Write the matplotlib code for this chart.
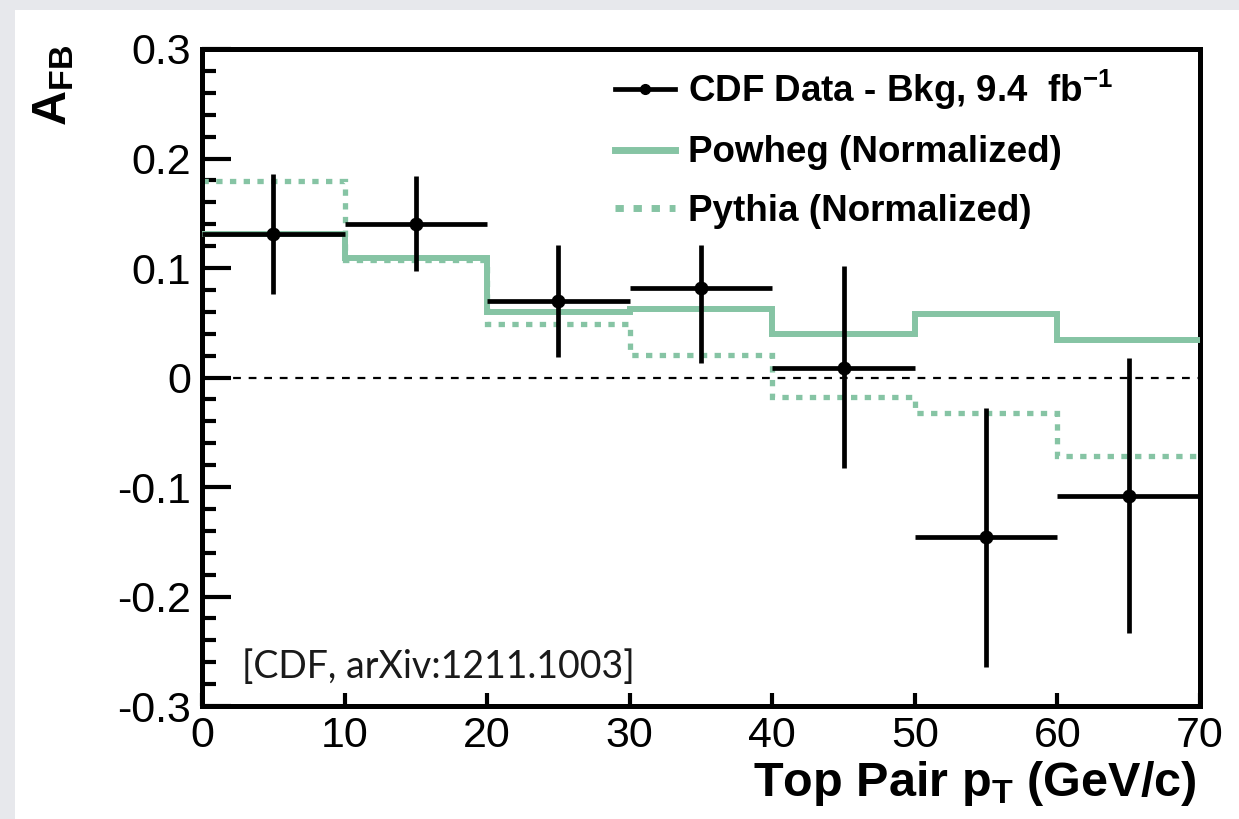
import numpy as np
import matplotlib
matplotlib.use('Agg')
import matplotlib.pyplot as plt
from matplotlib.lines import Line2D
from matplotlib.patches import Rectangle
from matplotlib.ticker import MultipleLocator

plt.rcParams['font.family'] = ['Liberation Sans', 'DejaVu Sans']
plt.rcParams['mathtext.fontset'] = 'custom'
plt.rcParams['mathtext.rm'] = 'Liberation Sans'
plt.rcParams['mathtext.bf'] = 'Liberation Sans:bold'
plt.rcParams['mathtext.it'] = 'Liberation Sans:italic'

# top pair pT bins (GeV/c)
edges = [0, 10, 20, 30, 40, 50, 60, 70]
centers = [5, 15, 25, 35, 45, 55, 65]
half_width = [5, 5, 5, 5, 5, 5, 5]

# CDF data - bkg, A_FB with errors
data = [0.131, 0.140, 0.070, 0.082, 0.009, -0.146, -0.108]
err_up = [0.055, 0.044, 0.051, 0.039, 0.093, 0.118, 0.126]
err_dn = [0.055, 0.043, 0.051, 0.069, 0.092, 0.118, 0.125]

powheg = [0.131, 0.109, 0.060, 0.063, 0.040, 0.058, 0.034]
pythia = [0.179, 0.107, 0.049, 0.021, -0.018, -0.032, -0.072]

GREEN = '#86C4A4'
GRAY_BG = '#E7E8EC'

fig = plt.figure(figsize=(12.39, 8.19), dpi=100, facecolor=GRAY_BG)
# white slide panel
fig.patches.append(Rectangle((15 / 1239, 0), 1, 1 - 10 / 819, transform=fig.transFigure,
                             facecolor='white', edgecolor='none', zorder=-5))

ax = fig.add_axes([202 / 1239, 1 - 706 / 819, 998 / 1239, 657 / 819])
ax.set_facecolor('white')

ax.axhline(0, color='black', lw=1.6, ls=(0, (3.5, 3.5)), zorder=1)
ax.stairs(pythia, edges, baseline=None, color=GREEN, lw=3.8, ls=(0, (1.2, 1.4)), zorder=2)
ax.stairs(powheg, edges, baseline=None, color=GREEN, lw=4.3, zorder=3)
ax.errorbar(centers, data, xerr=half_width, yerr=[err_dn, err_up], fmt='o', color='black',
            ms=9, elinewidth=3.4, capsize=0, zorder=4)

ax.set_xlim(0, 70)
ax.set_ylim(-0.3, 0.3)
ax.yaxis.set_minor_locator(MultipleLocator(0.02))
ax.set_yticks(np.arange(-0.3, 0.31, 0.1))
ax.set_yticklabels(['-0.3', '-0.2', '-0.1', '0', '0.1', '0.2', '0.3'])
ax.set_xticks(np.arange(0, 71, 10))
ax.set_xticklabels([str(v) for v in range(0, 71, 10)])

for s in ax.spines.values():
    s.set_linewidth(3.6)
ax.tick_params(axis='y', which='major', direction='in', length=21, width=3, labelsize=31, pad=8)
ax.tick_params(axis='y', which='minor', direction='in', length=10, width=3)
ax.tick_params(axis='x', which='major', direction='in', length=9.5, width=3, labelsize=31, pad=7)
ax.tick_params(axis='x', which='minor', bottom=False)

ax.set_ylabel(r'$\mathbf{A}_{\mathbf{FB}}$', fontsize=35, loc='top')
ax.yaxis.set_label_coords(-0.126, 1.006)
ax.set_xlabel(r'Top Pair p$_{\mathbf{T}}$ (GeV/c)', fontsize=35, fontweight='bold', loc='right')
ax.xaxis.set_label_coords(0.997, -0.08)

ax.text(0.04, 0.059, '[CDF, arXiv:1211.1003]', transform=ax.transAxes, fontsize=27,
        family=['Lato', 'DejaVu Sans'], fontweight='normal', va='center', ha='left', color='#1a1a1a')

handles = [
    Line2D([], [], color='black', lw=3.4, marker='o', ms=7),
    Line2D([], [], color=GREEN, lw=5),
    Line2D([], [], color=GREEN, lw=5, ls=(0, (1.2, 1.4))),
]
labels = [r'CDF Data - Bkg, 9.4  fb$^{\mathbf{-1}}$', 'Powheg (Normalized)', 'Pythia (Normalized)']
ax.legend(handles, labels, loc='upper left', bbox_to_anchor=(0.414, 0.971), frameon=False,
          prop={'weight': 'bold', 'size': 26.5}, handlelength=1.62, handletextpad=0.35,
          labelspacing=0.63, borderpad=0, borderaxespad=0)

fig.savefig('out.png', dpi=100, facecolor=fig.get_facecolor())
